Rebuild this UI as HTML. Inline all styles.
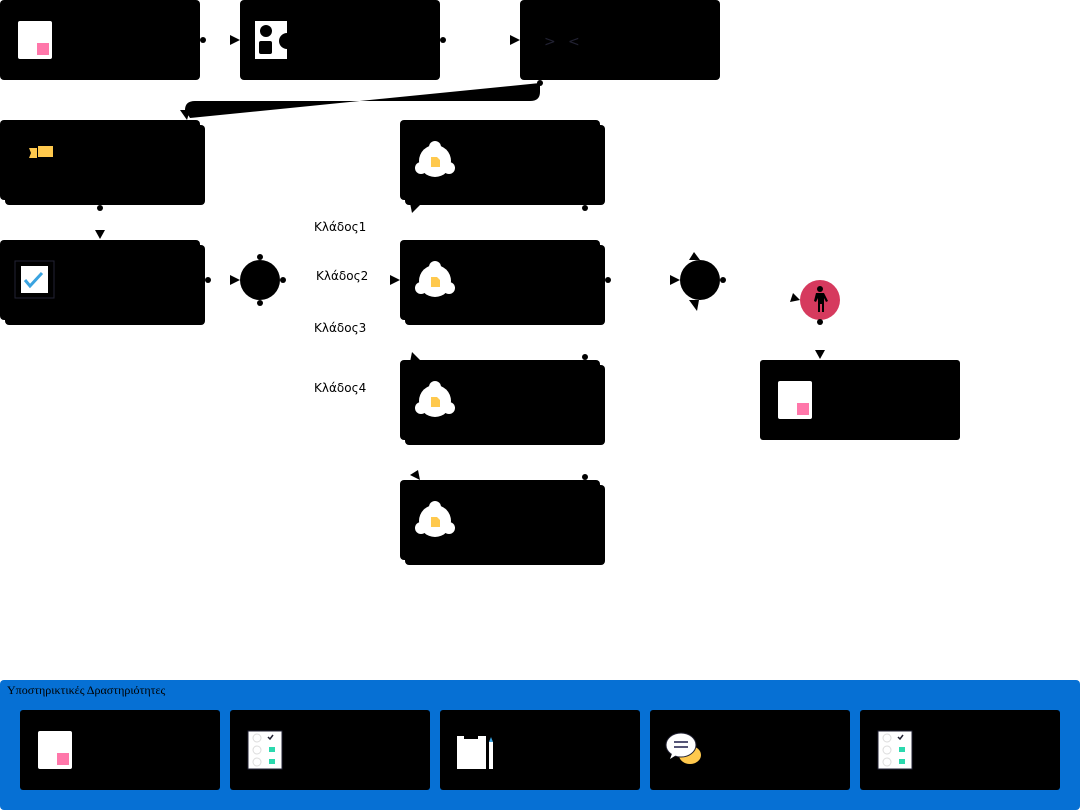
<!DOCTYPE html>
<html><head><meta charset="utf-8"><style>
body{margin:0;width:1082px;height:812px;background:#fff;position:relative;overflow:hidden;font-family:"DejaVu Sans","Liberation Sans",sans-serif}
svg{position:absolute;left:0;top:0}
</style></head><body>
<svg width="1082" height="812" viewBox="0 0 1082 812">
<defs>
<g id="doc"><rect x="0" y="0" width="34" height="38" rx="2" fill="#fff"/><rect x="19" y="22" width="12" height="12" fill="#FF77AA"/></g>
<g id="bell"><circle cx="19" cy="20" r="16" fill="#fff"/><circle cx="19" cy="6" r="6" fill="#fff"/><circle cx="5" cy="27" r="6" fill="#fff"/><circle cx="33" cy="27" r="6" fill="#fff"/><path d="M15 16h6l3 3v7h-9z" fill="#FFC94D"/></g>
<g id="list"><rect x="0" y="0" width="34" height="38" fill="#fff" stroke="#223" stroke-width="1"/><circle cx="9" cy="7" r="4" fill="none" stroke="#ddd"/><circle cx="9" cy="19" r="4" fill="none" stroke="#ddd"/><circle cx="9" cy="31" r="4" fill="none" stroke="#ddd"/><path d="M20 6l2 2 3-4" stroke="#223" fill="none" stroke-width="1.5"/><rect x="21" y="16" width="6" height="5" fill="#2BD9AE"/><rect x="21" y="28" width="6" height="5" fill="#2BD9AE"/></g>
</defs>
<rect x="0" y="0" width="200" height="80" rx="4"/>
<rect x="240" y="0" width="200" height="80" rx="4"/>
<rect x="520" y="0" width="200" height="80" rx="4"/>
<use href="#doc" x="18" y="21"/>
<rect x="255" y="21" width="32" height="38" fill="#fff"/><circle cx="266" cy="31" r="6"/><rect x="259" y="41" width="13" height="13" rx="2"/><circle cx="287" cy="41" r="8"/>
<text x="544" y="46" font-size="14" fill="#223">&gt;</text><text x="568" y="46" font-size="14" fill="#223">&lt;</text>
<circle cx="203" cy="40" r="3"/><path d="M230 35l10 5-10 5z"/>
<circle cx="443" cy="40" r="3"/><path d="M510 35l10 5-10 5z"/>
<path d="M540 83 L190 118 L185 110 Q185 101 195 101 L530 101 Q540 101 540 92 Z" fill-rule="nonzero"/>
<circle cx="540" cy="83" r="3"/>
<path d="M180 110l10 0-3 10z"/>
<rect x="5" y="125" width="200" height="80" rx="4"/><rect x="0" y="120" width="200" height="80" rx="4"/>
<path d="M29 148h8v10h-8l2-5z" fill="#FFC94D"/><rect x="38" y="146" width="15" height="11" fill="#FFC94D"/>
<circle cx="100" cy="208" r="3"/><path d="M95 230h10l-5 9z"/>
<rect x="5" y="245" width="200" height="80" rx="4"/><rect x="0" y="240" width="200" height="80" rx="4"/>
<rect x="15" y="261" width="39" height="37" fill="#000" stroke="#223"/><rect x="21" y="266" width="27" height="27" fill="#fff"/><path d="M25 280l5 6 12-13" stroke="#3AA3E0" stroke-width="3" fill="none"/>
<circle cx="208" cy="280" r="3"/><path d="M230 275l10 5-10 5z"/>
<circle cx="260" cy="280" r="20"/><circle cx="260" cy="257" r="3"/><circle cx="260" cy="303" r="3"/><circle cx="283" cy="280" r="3"/>
<text x="314" y="231" font-size="12">Κλάδος1</text>
<text x="316" y="280" font-size="12">Κλάδος2</text>
<text x="314" y="332" font-size="12">Κλάδος3</text>
<text x="314" y="392" font-size="12">Κλάδος4</text>
<rect x="405" y="125" width="200" height="80" rx="4"/><rect x="400" y="120" width="200" height="80" rx="4"/>
<rect x="405" y="245" width="200" height="80" rx="4"/><rect x="400" y="240" width="200" height="80" rx="4"/>
<rect x="405" y="365" width="200" height="80" rx="4"/><rect x="400" y="360" width="200" height="80" rx="4"/>
<rect x="405" y="485" width="200" height="80" rx="4"/><rect x="400" y="480" width="200" height="80" rx="4"/>
<use href="#bell" x="416" y="141"/><use href="#bell" x="416" y="261"/><use href="#bell" x="416" y="381"/><use href="#bell" x="416" y="501"/>
<path d="M410 203l10 2-8 8z"/><circle cx="585" cy="208" r="3"/>
<path d="M390 275l10 5-10 5z"/><circle cx="608" cy="280" r="3"/>
<path d="M412 352l8 8-10 2z"/><circle cx="585" cy="357" r="3"/>
<path d="M410 475l8-5 2 10z"/><circle cx="585" cy="477" r="3"/>
<path d="M670 275l10 5-10 5z"/>
<circle cx="700" cy="280" r="20"/><circle cx="723" cy="280" r="3"/>
<path d="M689 260l5-8 6 8z"/><path d="M689 300l10 0-2 11z"/>
<path d="M790 302l3-9 7 7z"/>
<circle cx="820" cy="300" r="20" fill="#D63A5E"/>
<circle cx="820" cy="289" r="3"/><path d="M816 293h8l4 8-2 1-2-4v14h-2v-8h-2v8h-2v-14l-2 4-2-1z"/>
<circle cx="820" cy="322" r="3"/><path d="M815 350h10l-5 9z"/>
<rect x="760" y="360" width="200" height="80" rx="3"/>
<use href="#doc" x="778" y="381"/>
<rect x="0" y="680" width="1080" height="130" rx="4" fill="#0670D4"/>
<text x="7" y="694" font-size="12" font-family="Liberation Serif,serif" fill="#000">Υποστηρικτικές Δραστηριότητες</text>
<rect x="20" y="710" width="200" height="80" rx="3"/>
<rect x="230" y="710" width="200" height="80" rx="3"/>
<rect x="440" y="710" width="200" height="80" rx="3"/>
<rect x="650" y="710" width="200" height="80" rx="3"/>
<rect x="860" y="710" width="200" height="80" rx="3"/>
<use href="#doc" x="38" y="731"/>
<use href="#list" x="248" y="731"/>
<use href="#list" x="878" y="731"/>
<rect x="457" y="736" width="29" height="33" fill="#fff"/><rect x="464" y="734" width="14" height="5" fill="#000"/><rect x="489" y="742" width="4" height="27" fill="#fff"/><path d="M489 742l2-5 2 5z" fill="#3AA3E0"/>
<ellipse cx="690" cy="755" rx="11" ry="9" fill="#FFC94D"/>
<ellipse cx="681" cy="745" rx="15" ry="12" fill="#fff" stroke="#223"/><path d="M673 751l-3 8 8-5z" fill="#fff"/>
<path d="M674 742h14M674 747h14" stroke="#557" stroke-width="2"/>
</svg>
</body></html>
